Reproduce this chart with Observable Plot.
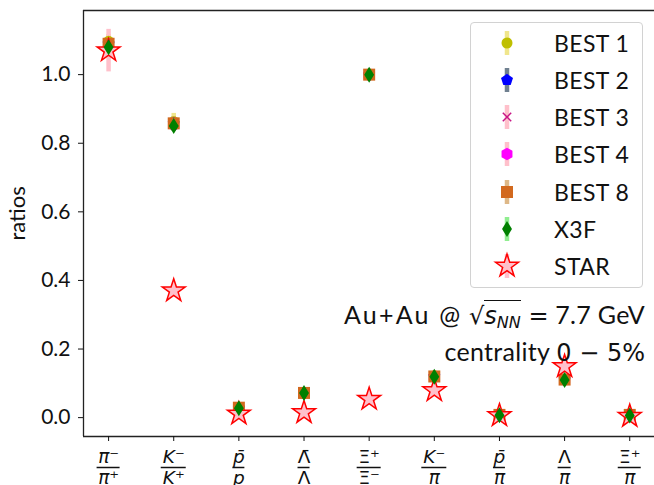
<!DOCTYPE html>
<html>
<head>
<meta charset="utf-8">
<script src="https://cdn.jsdelivr.net/npm/d3@7"></script>
<script src="https://cdn.jsdelivr.net/npm/@observablehq/plot@0.6"></script>
<style>
  body { margin: 0; background: #fff; }
  #wrap { position: relative; width: 654px; height: 485px; overflow: hidden; font-family: Lato, "Open Sans", sans-serif; color: #111; }
  #wrap svg { display: block; }
  #legend { position: absolute; left: 470px; top: 22px; width: 173px; height: 266px; box-sizing: border-box;
            border: 1px solid #d2d2d2; border-radius: 4px; background: rgba(255,255,255,0.85); }
  .row { position: absolute; left: 0; width: 100%; height: 30px; }
  .row svg { position: absolute; left: 16px; top: 0; }
  .row span { position: absolute; left: 83px; top: 1px; font-size: 23px; line-height: 28px; letter-spacing: 0.4px; }
  #note { position: absolute; right: 9px; top: 300px; text-align: right; font-size: 25px; line-height: 29px; white-space: nowrap; letter-spacing: 0.3px; }
  .wide { letter-spacing: 2.2px; }
  .m { font-family: "DejaVu Sans", sans-serif; font-size: 24px; letter-spacing: 0; }
  .rad { border-top: 1.8px solid #111; padding-top: 1px; }
  .rad sub { font-size: 16px; vertical-align: -4px; }
</style>
</head>
<body>
<div id="wrap"></div>
<script>
// ---- particle ratios (Au+Au, sqrt(s_NN) = 7.7 GeV, 0-5% centrality) ----
const categories   = ["pi-/pi+", "K-/K+", "pbar/p", "Lbar/L", "Xi+/Xi-", "K-/pi", "pbar/pi", "L/pi", "Xi+/pi"];
const numerators   = ["π⁻", "K⁻", "p̄", "Λ̄", "Ξ⁺", "K⁻", "p̄", "Λ", "Ξ⁺"];
const denominators = ["π⁺", "K⁺", "p", "Λ", "Ξ⁻", "π", "π", "π", "π"];

const best1 = [1.097, 0.863, 0.029, 0.073, 1.002, 0.122, 0.008, 0.113, 0.008];
const best2 = [1.090, 0.858, 0.028, 0.072, 1.000, 0.120, 0.008, 0.111, 0.007];
const best3 = [1.088, 0.856, 0.028, 0.072, 1.000, 0.119, 0.007, 0.111, 0.007];
const best4 = [1.086, 0.853, 0.027, 0.071, 0.999, 0.118, 0.007, 0.110, 0.007];
const best8 = [1.090, 0.858, 0.029, 0.072, 1.000, 0.120, 0.008, 0.111, 0.008];
const x3f   = [1.080, 0.850, 0.027, 0.072, 1.000, 0.119, 0.007, 0.110, 0.006];
const star  = [1.070, 0.370, 0.011, 0.015, 0.054, 0.079, 0.006, 0.149, 0.004];

const best1Err = [0.020, 0.024, 0.004, 0.006, 0.012, 0.008, 0.002, 0.008, 0.002];
const best2Err = [0.015, 0.018, 0.003, 0.005, 0.010, 0.006, 0.002, 0.006, 0.002];
const best3Err = [0.015, 0.018, 0.003, 0.005, 0.010, 0.006, 0.002, 0.006, 0.002];
const best4Err = [0.015, 0.018, 0.003, 0.005, 0.010, 0.006, 0.002, 0.006, 0.002];
const best8Err = [0.018, 0.020, 0.004, 0.006, 0.010, 0.007, 0.002, 0.007, 0.002];
const x3fErr   = [0.012, 0.014, 0.003, 0.004, 0.008, 0.005, 0.001, 0.005, 0.001];
const starErr  = [0.062, 0.006, 0.001, 0.002, 0.003, 0.003, 0.001, 0.006, 0.001];

const yTicks = [0, 0.2, 0.4, 0.6, 0.8, 1.0];

// ---- marker shapes (size = PI * r^2, r = outer radius) ----
const rad = size => Math.sqrt(size / Math.PI);
function polygon(n, rot) {
  return { draw(ctx, size) { const R = rad(size);
    for (let i = 0; i < n; i++) { const a = rot + i * 2 * Math.PI / n;
      const x = R * Math.cos(a), y = R * Math.sin(a); i ? ctx.lineTo(x, y) : ctx.moveTo(x, y); }
    ctx.closePath(); } };
}
const symPentagon = polygon(5, -Math.PI / 2);
const symHexagon  = polygon(6, -Math.PI / 2);
const symSquare   = { draw(ctx, size) { const R = rad(size); ctx.rect(-R, -R, 2 * R, 2 * R); } };
const symThinDiamond = { draw(ctx, size) { const R = rad(size), w = R * 0.62;
  ctx.moveTo(0, -R); ctx.lineTo(w, 0); ctx.lineTo(0, R); ctx.lineTo(-w, 0); ctx.closePath(); } };
const symCross = { draw(ctx, size) { const R = rad(size);
  ctx.moveTo(-R, -R); ctx.lineTo(R, R); ctx.moveTo(-R, R); ctx.lineTo(R, -R); } };
const symStar = { draw(ctx, size) { const R = rad(size), r = R * 0.382;
  for (let i = 0; i < 10; i++) { const a = -Math.PI / 2 + i * Math.PI / 5, q = i % 2 ? r : R;
    const x = q * Math.cos(a), y = q * Math.sin(a); i ? ctx.lineTo(x, y) : ctx.moveTo(x, y); }
  ctx.closePath(); } };

const series = [
  {name: "BEST 1", values: best1, err: best1Err, symbol: "circle",      r: 5.5, fill: "#bfbf00", stroke: "none",    ecolor: "#f0e68c"},
  {name: "BEST 2", values: best2, err: best2Err, symbol: symPentagon,   r: 6.3, fill: "#0000ff", stroke: "none",    ecolor: "#708090"},
  {name: "BEST 3", values: best3, err: best3Err, symbol: symCross,      r: 4.2, fill: "none",    stroke: "#c71585", ecolor: "#ffc0cb"},
  {name: "BEST 4", values: best4, err: best4Err, symbol: symHexagon,    r: 6.3, fill: "#ff00ff", stroke: "none",    ecolor: "#ffc0cb"},
  {name: "BEST 8", values: best8, err: best8Err, symbol: symSquare,     r: 6.0, fill: "#d2691e", stroke: "none",    ecolor: "#deb887"},
  {name: "X3F",    values: x3f,   err: x3fErr,   symbol: symThinDiamond,r: 8.0, fill: "#008000", stroke: "none",    ecolor: "#90ee90"},
  {name: "STAR",   values: star,  err: starErr,  symbol: symStar,       r: 12,  fill: "#ffc0cb", stroke: "#ff0000", ecolor: "#ffc0cb"}
];

const W = 654, H = 485, mL = 83, mR = 0, mT = 10, mB = 49;
const xDomain = [-0.385, 8.38];
const yDomain = [-0.055, 1.187];
const pxPerX = (W - mL - mR) / (xDomain[1] - xDomain[0]);
const idx = d3.range(categories.length);
const fracPx = [23, 25, 12, 12, 24, 25, 12, 13, 23];   // fraction-bar widths of the tick labels
const upright = s => /[ΛΞ]/.test(s);

const rows = s => idx.map(i => ({i, v: s.values[i], e: s.err[i]}));

const errMarks = series.map(s => Plot.ruleX(rows(s), {
  x: "i", y1: d => d.v - d.e, y2: d => d.v + d.e, stroke: s.ecolor, strokeWidth: 4.5
}));
const dotMark = s => Plot.dot(rows(s), {
  x: "i", y: "v", symbol: s.symbol, r: s.r, fill: s.fill, stroke: s.stroke,
  strokeWidth: s.name === "STAR" ? 1.5 : 1.6
});
// BEST markers first, then STAR, with X3F on top
const order = ["BEST 1", "BEST 2", "BEST 3", "BEST 4", "BEST 8", "STAR", "X3F"];
const dotMarks = order.map(n => dotMark(series.find(s => s.name === n)));

const labelText = (arr, pick, dy, lineAnchor) => [
  Plot.text(idx.filter(i => pick(arr[i])), {x: d => d, text: d => arr[d], frameAnchor: "bottom", dy, lineAnchor,
    fontFamily: "DejaVu Sans", fontSize: 18.5, fontStyle: "italic", fill: "#111"}),
  Plot.text(idx.filter(i => !pick(arr[i])), {x: d => d, text: d => arr[d], frameAnchor: "bottom", dy, lineAnchor,
    fontFamily: "DejaVu Sans", fontSize: 18.5, fill: "#111"})
];

const chart = Plot.plot({
  width: W, height: H,
  marginLeft: mL, marginRight: mR, marginTop: mT, marginBottom: mB,
  style: {fontFamily: "Lato, 'Open Sans', sans-serif", fontSize: "21px", color: "#111", background: "#fff", overflow: "visible"},
  x: {type: "linear", domain: xDomain},
  y: {domain: yDomain},
  marks: [
    ...errMarks,
    ...dotMarks,
    // frame: left, top, bottom edges
    Plot.ruleX([xDomain[0]], {stroke: "#222", strokeWidth: 1.3}),
    Plot.ruleY([yDomain[0], yDomain[1]], {stroke: "#222", strokeWidth: 1.3}),
    Plot.axisY({ticks: yTicks, tickFormat: d3.format(".1f"), tickSize: 5, tickPadding: 8, label: null, fontSize: 21}),
    Plot.axisX({ticks: idx, tickFormat: () => "", tickSize: 5, label: null}),
    // stacked-fraction tick labels
    ...labelText(numerators, s => !upright(s), 26, "bottom"),
    Plot.ruleY(idx, {x1: i => i - fracPx[i] / 2 / pxPerX, x2: i => i + fracPx[i] / 2 / pxPerX,
      y: () => yDomain[0], dy: 31, stroke: "#111", strokeWidth: 1.5}),
    ...labelText(denominators, s => !upright(s), 34, "top"),
    Plot.text(["ratios"], {text: d => d, frameAnchor: "left", dx: -66, dy: 17, rotate: -90, fontSize: 22, fill: "#111"})
  ]
});

const wrap = document.getElementById("wrap");
wrap.appendChild(chart);

// legend
const legend = document.createElement("div");
legend.id = "legend";
series.forEach((s, k) => {
  const row = document.createElement("div");
  row.className = "row";
  row.style.top = (4.7 + 37.2 * k) + "px";
  const sv = d3.create("svg").attr("width", 40).attr("height", 30);
  sv.append("rect").attr("x", 17.75).attr("y", 3).attr("width", 4.5).attr("height", 24).attr("fill", s.ecolor);
  const sym = typeof s.symbol === "string" ? d3.symbolCircle : s.symbol;
  sv.append("path").attr("transform", "translate(20,15)")
    .attr("d", d3.symbol(sym, Math.PI * s.r * s.r)())
    .attr("fill", s.fill).attr("stroke", s.stroke).attr("stroke-width", 1.5);
  row.appendChild(sv.node());
  const t = document.createElement("span");
  t.textContent = s.name;
  row.appendChild(t);
  legend.appendChild(row);
});
wrap.appendChild(legend);

// collision annotation
const note = document.createElement("div");
note.id = "note";
note.innerHTML = '<span class="wide">Au+Au @</span> <span class="m">√<span class="rad"><i>s</i><sub><i>NN</i></sub></span> =</span> 7.7 GeV<br>' +
                 'centrality <span class="m">0 − 5%</span>';
wrap.appendChild(note);
</script>
</body>
</html>
